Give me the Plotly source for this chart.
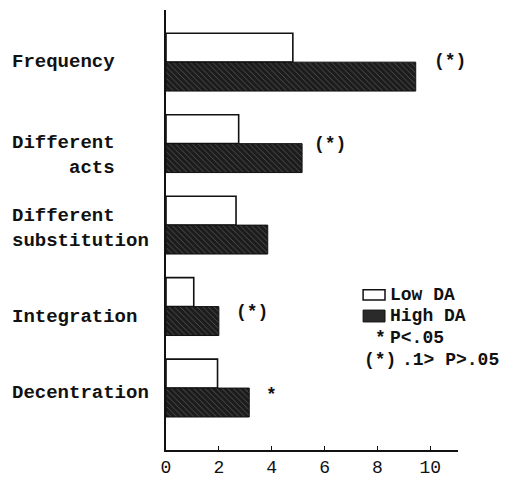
import plotly.graph_objects as go

# data
categories = ["Frequency", "Different<br>acts", "Different<br>substitution", "Integration", "Decentration"]
low_da = [4.8, 2.75, 2.65, 1.05, 1.95]
high_da = [9.45, 5.15, 3.85, 2.0, 3.15]
signif = ["(*)", "(*)", "", "(*)", "*"]
tick_vals = [0, 2, 4, 6, 8, 10]
series_names = ["Low DA", "High DA"]
legend_notes = [("*", "P<.05"), ("(*)", ".1> P>.05")]

FONT = "Liberation Mono"
INK = "#111"
ypos = list(range(len(categories)))

fig = go.Figure()
fig.add_trace(go.Bar(
    y=ypos, x=low_da, orientation="h", name=series_names[0],
    marker=dict(color="white", line=dict(color=INK, width=1.6)),
))
fig.add_trace(go.Bar(
    y=ypos, x=high_da, orientation="h", name=series_names[1],
    marker=dict(color="#1c1c1c", line=dict(color=INK, width=1),
                pattern=dict(shape="\\", fgcolor="#9a9a9a", size=4, solidity=0.2)),
))

# category labels on the left
label_align = ["left", "right", "left", "left", "left"]
label_shift = [0, -12, -3, -10, -5]
for i, lab in enumerate(categories):
    fig.add_annotation(x=-0.534, xref="paper", y=ypos[i], yref="y", text="<b>%s</b>" % lab,
                       xanchor="left", yanchor="middle", align=label_align[i], showarrow=False,
                       yshift=label_shift[i], font=dict(size=19))

# significance marks next to bars
sig_x = [10.75, 6.2, 0, 3.25, 4.0]
sig_y = [-0.02, 0.0, 0, 0.07, 0.09]
for i, s in enumerate(signif):
    if s:
        fig.add_annotation(x=sig_x[i], y=ypos[i] + sig_y[i], text="<b>%s</b>" % s,
                           showarrow=False, font=dict(size=18))

# hand-drawn key (boxes + text), as in the original figure
fig.add_shape(type="rect", xref="paper", yref="paper", x0=0.675, x1=0.75, y0=0.341, y1=0.364,
              line=dict(color=INK, width=1.5), fillcolor="white")
fig.add_shape(type="rect", xref="paper", yref="paper", x0=0.675, x1=0.75, y0=0.291, y1=0.318,
              line=dict(color=INK, width=1), fillcolor="#2a2a2a")
for name, yy in zip(series_names, [0.352, 0.305]):
    fig.add_annotation(x=0.76, xref="paper", y=yy, yref="paper", text="<b>%s</b>" % name,
                       xanchor="left", yanchor="middle", showarrow=False, font=dict(size=18))
for (sym, txt), yy in zip(legend_notes, [0.255, 0.205]):
    if sym == "*":
        fig.add_annotation(x=0.733, xref="paper", y=yy, yref="paper", text="<b>*</b>",
                           xanchor="center", yanchor="middle", showarrow=False, font=dict(size=18))
        fig.add_annotation(x=0.76, xref="paper", y=yy, yref="paper", text="<b>%s</b>" % txt,
                           xanchor="left", yanchor="middle", showarrow=False, font=dict(size=18))
    else:
        fig.add_annotation(x=0.672, xref="paper", y=yy, yref="paper", text="<b>%s</b>" % sym,
                           xanchor="left", yanchor="middle", showarrow=False, font=dict(size=18))
        fig.add_annotation(x=0.80, xref="paper", y=yy, yref="paper", text="<b>%s</b>" % txt,
                           xanchor="left", yanchor="middle", showarrow=False, font=dict(size=18))

# page body has an 8px margin, so the figure is shrunk by that amount
fig.update_layout(
    width=500, height=473,
    margin=dict(l=158, r=50, t=2, b=31),
    plot_bgcolor="white", paper_bgcolor="white",
    font=dict(family=FONT, size=18, color=INK),
    barmode="group", bargap=0.29, bargroupgap=0,
    showlegend=False,
)
fig.update_xaxes(range=[0, 11.05], tickvals=tick_vals, showgrid=False, zeroline=False,
                 showline=True, linecolor=INK, linewidth=1.5,
                 ticks="inside", ticklen=4, tickcolor=INK, tickfont=dict(size=18))
fig.update_yaxes(range=[4.76, -0.64], showgrid=False, zeroline=False, showticklabels=False,
                 showline=True, linecolor=INK, linewidth=1.5)

fig.write_html("out.html")
